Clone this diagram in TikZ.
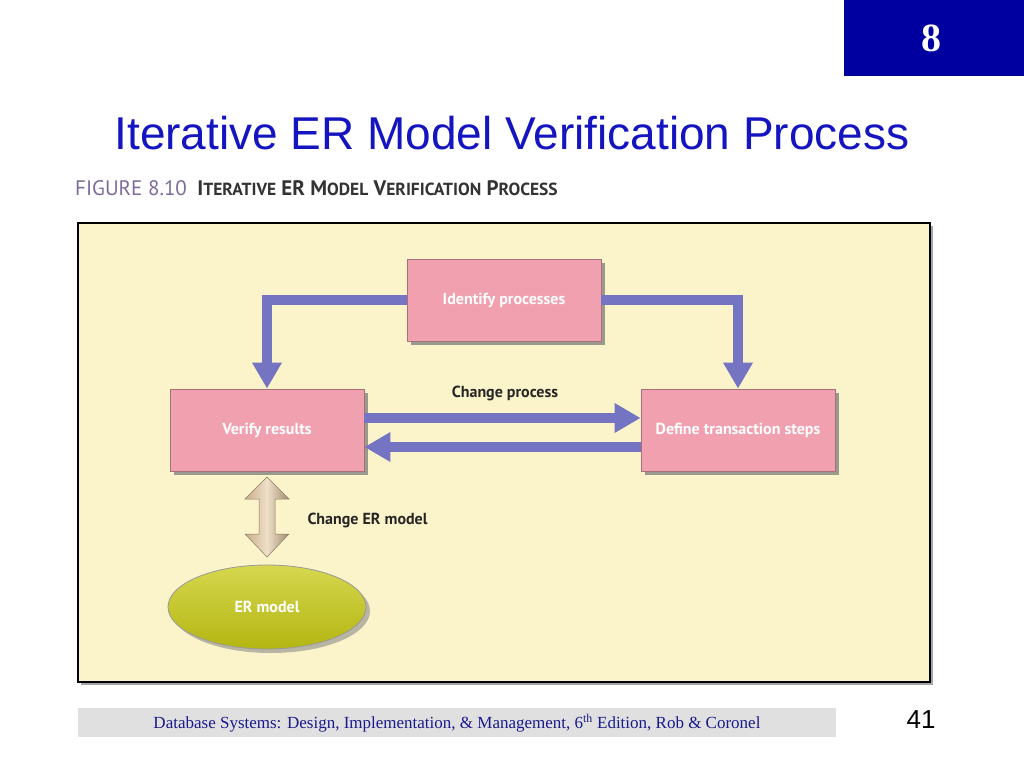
\documentclass[tikz,border=0pt]{standalone}
\usepackage{fontspec}
\setmainfont{Liberation Serif}
\newfontfamily\arialf{Liberation Sans}
\newfontfamily\figf{PT Sans}
\usetikzlibrary{arrows.meta,shapes.geometric,shadows}
\definecolor{navy}{HTML}{0000A0}
\definecolor{titleblue}{HTML}{1414C0}
\definecolor{cream}{HTML}{FBF3C9}
\definecolor{pinkbox}{HTML}{F0A0AE}
\definecolor{arrowblue}{HTML}{7474C2}
\definecolor{figpurple}{HTML}{7D6B99}
\definecolor{tan}{HTML}{C8AE8C}
\definecolor{tanlight}{HTML}{EFE0C8}
\definecolor{ergreen}{HTML}{C8CA14}
\definecolor{footgray}{HTML}{E0E0E0}
\definecolor{foottext}{HTML}{1A1A8C}
\newcommand{\scs}[1]{{\fontsize{17.5}{19}\selectfont #1}}
\tikzset{
  procbox/.style={draw=pinkbox!70!black, line width=0.8pt, fill=pinkbox, minimum width=194pt, minimum height=82pt,
    text=white, font=\figf\bfseries\fontsize{16}{18}\selectfont,
    drop shadow={shadow xshift=4pt, shadow yshift=-4pt, fill=black!55, opacity=0.7}},
  flow/.style={draw=arrowblue, line width=10pt, -{Triangle[width=28pt,length=26pt]}},
  lbl/.style={font=\figf\bfseries\fontsize{16}{18}\selectfont, text=black!85}
}
\begin{document}
\begin{tikzpicture}[x=1pt,y=-1pt]
\useasboundingbox (0,0) rectangle (1024,768);
\fill[white] (0,0) rectangle (1024,768);
% page number box
\fill[navy] (844,0) rectangle (1024,76);
\node (pg) at (931,38) {\fontsize{40}{44}\selectfont\bfseries\textcolor{white}{8}};
% title
\node (title) at (512,133) {\arialf\fontsize{46}{50}\selectfont\textcolor{titleblue}{Iterative ER Model Verification Process}};
% figure caption
\node[anchor=west, inner sep=0pt] (cap) at (75,188) {\figf\fontsize{21}{23}\selectfont\textcolor{figpurple}{FIGURE 8.10}\hspace{0.5em}\textcolor{black!80}{\bfseries I\scs{TERATIVE} ER M\scs{ODEL} V\scs{ERIFICATION} P\scs{ROCESS}}};
% frame
\fill[black!35] (81,226) rectangle (933,685);
\draw[fill=cream, line width=2pt] (78,223) rectangle (930,682);
% boxes
\node[procbox] (idp) at (504,300) {Identify processes};
\node[procbox] (ver) at (267,430) {Verify results};
\node[procbox] (def) at (738,430) {Define transaction steps};
% connectors
\draw[flow] (idp.west) -| (ver.north);
\draw[flow] (idp.east) -| (def.north);
\draw[flow] ([yshift=12pt]ver.east) -- ([yshift=12pt]def.west);
\draw[flow] ([yshift=-17pt]def.west) -- ([yshift=-17pt]ver.east);
\node[lbl] (cp) at (505,393) {Change process};
% ER model
\node[ellipse, draw=black!40, line width=0.8pt, top color=ergreen!75!white, bottom color=ergreen!90!black, minimum width=198pt, minimum height=84pt,
  text=white, font=\figf\bfseries\fontsize{16}{18}\selectfont,
  drop shadow={shadow xshift=4pt, shadow yshift=-4pt, fill=black!45, opacity=0.6}] (er) at (267,607) {ER model};
% double arrow
\shade[left color=tan, right color=tan!80!black, middle color=tanlight, draw=tan!70!black, line width=0.5pt]
  (267,477) -- (289,499) -- (275,499) -- (275,534) -- (289,534) -- (267,557)
  -- (245,534) -- (259,534) -- (259,499) -- (245,499) -- cycle;
\node[lbl, anchor=west] (cer) at (304,520) {Change ER model};
% footer
\fill[footgray] (78,708) rectangle (836,737);
\node (foot) at (457,723) {\fontsize{17}{19}\selectfont\textcolor{foottext}{Database Systems: Design, Implementation, \& Management, 6\textsuperscript{th} Edition, Rob \& Coronel}};
\node (num) at (921,720) {\arialf\fontsize{26}{28}\selectfont 41};
\end{tikzpicture}
\end{document}
